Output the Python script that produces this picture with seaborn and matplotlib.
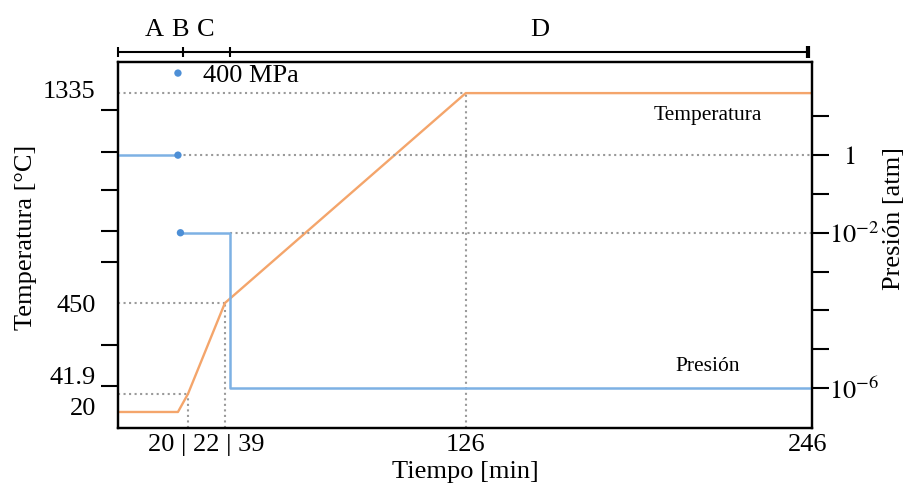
import numpy as np
import matplotlib.pyplot as plt
import seaborn as sns
from matplotlib.ticker import FixedLocator, FixedFormatter, NullLocator
from matplotlib.transforms import ScaledTranslation

# datos del proceso
tiempo_temp = [0, 20, 22, 39, 126, 247.5]
temperatura = [20, 20, 41.9, 450, 1335, 1335]

tiempo_pres = [0, 20]
presion_atm = [1, 1]
tiempo_vacio = [20, 41, 41, 247.5]
presion_vacio = [1e-2, 1e-2, 1e-6, 1e-6]
tiempo_puntos = [20, 20, 20.5]
presion_puntos = [130, 1, 1e-2]  # 400 MPa dibujado fuera de escala

etapas = ['A', 'B', 'C', 'D']
etapas_pos = [12, 20.5, 30, 152]
etapas_lim = [0, 21, 41, 246]

x_ticks = [22, 126, 246]
x_labels = ['20 | 22 | 39', '126', '246']
t_ticks = [20, 41.9, 450, 1335]
t_labels = ['20', '41.9', '450', '1335']
p_ticks = [1e1, 1, 1e-1, 1e-2, 1e-3, 1e-4, 1e-5, 1e-6]
p_labels = ['', '$1$', '', '$10^{-2}$', '', '', '', '$10^{-6}$']

# ejes esquematicos (no lineales), como en la figura original
tx = [0, 20, 22, 39, 126, 246, 250]
ux = [0, 60, 70, 107, 348, 690, 702]
tt = [0, 20, 41.9, 450, 1335, 1600]
ut = [0, 16, 34, 125, 335, 398]


def fx(x):
    return np.interp(np.asarray(x, dtype=float), tx, ux)


def ix(u):
    return np.interp(np.asarray(u, dtype=float), ux, tx)


def ft(x):
    return np.interp(np.asarray(x, dtype=float), tt, ut)


def it(u):
    return np.interp(np.asarray(u, dtype=float), ut, tt)


sns.set_style('ticks')
plt.rcParams['font.family'] = ['Liberation Serif', 'DejaVu Serif']
plt.rcParams['mathtext.fontset'] = 'stix'
plt.rcParams['text.color'] = 'k'
plt.rcParams['axes.labelcolor'] = 'k'
plt.rcParams['xtick.color'] = 'k'
plt.rcParams['ytick.color'] = 'k'

azul = '#7db1e4'
azul_punto = '#4d8fd6'
naranja = '#f4a56b'
gris = '#9a9a9a'

fig = plt.figure(figsize=(9.09, 4.88), dpi=100)
ax = fig.add_axes([0.1298, 0.123, 0.7635, 0.75])
ax.set_xscale('function', functions=(fx, ix))
ax.set_yscale('function', functions=(ft, it))
ax.set_xlim(0, 247.5)
ax.set_ylim(0, 1466)

ax2 = ax.twinx()
ax2.set_yscale('log')
ax2.set_ylim(10 ** -7.03, 10 ** 2.40)

# lineas guia punteadas
ax.hlines([temperatura[4], temperatura[3], temperatura[2]], 0,
          [tiempo_temp[4], tiempo_temp[3], tiempo_temp[2]],
          colors=gris, linestyles=':', lw=1.5)
ax.vlines([tiempo_temp[2], tiempo_temp[3], tiempo_temp[4]], 0,
          [temperatura[2], temperatura[3], temperatura[4]],
          colors=gris, linestyles=':', lw=1.5)
ax2.hlines([presion_atm[-1], presion_vacio[0]], [tiempo_pres[-1], tiempo_vacio[1]],
           247.5, colors=gris, linestyles=':', lw=1.5)

sns.lineplot(x=tiempo_temp, y=temperatura, ax=ax, color=naranja, lw=1.7,
             estimator=None, sort=False)
sns.lineplot(x=tiempo_pres, y=presion_atm, ax=ax2, color=azul, lw=1.8,
             estimator=None, sort=False)
sns.lineplot(x=tiempo_vacio, y=presion_vacio, ax=ax2, color=azul, lw=1.8,
             estimator=None, sort=False)
sns.scatterplot(x=tiempo_puntos, y=presion_puntos, ax=ax2, color=azul_punto,
                s=28, edgecolor='none', zorder=5)
ax2.annotate('400 MPa', xy=(tiempo_puntos[0], presion_puntos[0]), xytext=(18, -2),
             textcoords='offset points', fontsize=19, va='center', ha='left')

# eje x
ax.xaxis.set_major_locator(FixedLocator(x_ticks))
ax.xaxis.set_major_formatter(FixedFormatter(x_labels))
ax.xaxis.set_minor_locator(NullLocator())
ax.tick_params(axis='x', length=0, pad=4, labelsize=19)
lbls = ax.get_xticklabels()
lbls[0].set_transform(lbls[0].get_transform() + ScaledTranslation(0.18, 0, fig.dpi_scale_trans))
ax.set_xlabel('Tiempo [min]', fontsize=19, labelpad=4)

# eje izquierdo
ax.yaxis.set_major_locator(FixedLocator(t_ticks))
ax.yaxis.set_major_formatter(FixedFormatter(t_labels))
marcas = it([42, 83, 125, 166, 197, 238, 276, 318])
ax.yaxis.set_minor_locator(FixedLocator(marcas))
ax.tick_params(axis='y', which='major', length=0, pad=16, labelsize=19)
ax.tick_params(axis='y', which='minor', length=12, width=1.5, color='k')
ylbls = ax.get_yticklabels()
for lab, dy in zip(ylbls, [5, 18, 0, 4]):
    lab.set_transform(lab.get_transform() + ScaledTranslation(0, dy / 100, fig.dpi_scale_trans))
ax.set_ylabel('Temperatura [°C]', fontsize=19)
ax.yaxis.set_label_coords(-0.117, 0.52)

# eje derecho
ax2.yaxis.set_major_locator(FixedLocator(p_ticks))
ax2.yaxis.set_major_formatter(FixedFormatter(p_labels))
ax2.yaxis.set_minor_locator(NullLocator())
ax2.tick_params(axis='y', which='major', length=12, width=1.5, color='k', pad=0, labelsize=19)
rl = ax2.get_yticklabels()
rl[1].set_transform(rl[1].get_transform() + ScaledTranslation(0.14, 0, fig.dpi_scale_trans))
ax2.set_ylabel('Presión [atm]', fontsize=19)
ax2.yaxis.set_label_coords(1.102, 0.571)

for a in (ax, ax2):
    for s in a.spines.values():
        s.set_color('k')
        s.set_linewidth(1.6)

# textos de las curvas
ax.text(0.85, 0.855, 'Temperatura', transform=ax.transAxes, fontsize=15.5, ha='center', va='center')
ax.text(0.85, 0.167, 'Presión', transform=ax.transAxes, fontsize=15.5, ha='center', va='center')

# barra de etapas arriba
tr = ax.get_xaxis_transform()
ax.plot([etapas_lim[0], etapas_lim[-1]], [1.027, 1.027], transform=tr, color='k', lw=1.5, clip_on=False)
ax.vlines(etapas_lim[:-1], 1.013, 1.041, transform=tr, colors='k', lw=1.5, clip_on=False)
ax.vlines(etapas_lim[-1], 1.010, 1.044, transform=tr, colors='k', lw=3, clip_on=False)
for e, p in zip(etapas, etapas_pos):
    ax.text(p, 1.087, e, transform=tr, fontsize=19, ha='center', va='center')

fig.savefig('out.png', dpi=100)
